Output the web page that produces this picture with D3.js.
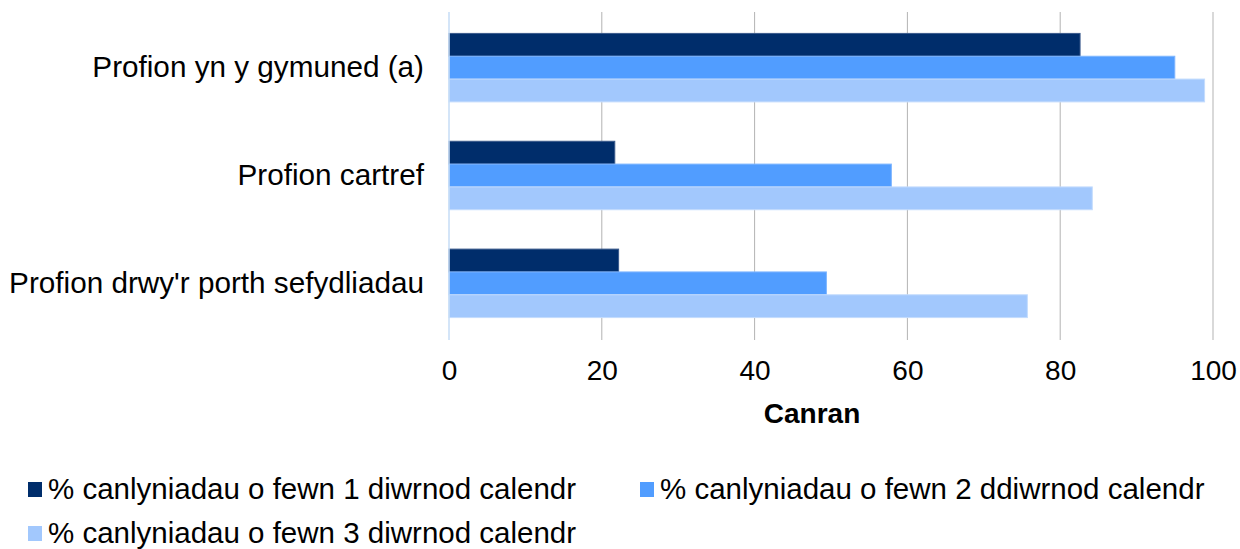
<!DOCTYPE html>
<html>
<head>
<meta charset="utf-8">
<script src="https://cdn.jsdelivr.net/npm/d3@7"></script>
<style>
  body { margin: 0; background: #fff; }
  svg { display: block; font-family: "Liberation Sans", Arial, sans-serif; }
</style>
</head>
<body>
<svg id="chart" width="1240" height="549"></svg>
<script>
var categories = ['Profion yn y gymuned (a)', 'Profion cartref', "Profion drwy'r porth sefydliadau"]
var seriesNames = [
  '% canlyniadau o fewn 1 diwrnod calendr',
  '% canlyniadau o fewn 2 ddiwrnod calendr',
  '% canlyniadau o fewn 3 diwrnod calendr'
]
var day1 = [82.6, 21.7, 22.2]
var day2 = [95.0, 57.9, 49.4]
var day3 = [98.9, 84.2, 75.7]
var xTicks = [0, 20, 40, 60, 80, 100]
var colors = ['#002d6b', '#519dff', '#a2c8fd']
var strokes = ['#3a5a8c', '#7fb6ff', '#c4dcfd']

var series = [day1, day2, day3]
var svg = d3.select('#chart')

var x = d3.scaleLinear().domain([0, 100]).range([449, 1213])
var y = d3.scaleBand().domain(categories).range([14, 337]).paddingInner(0.365).paddingOuter(0.18)
var ySub = d3.scaleBand().domain(d3.range(series.length)).range([0, y.bandwidth()])

// grid
svg.append('g').selectAll('line')
  .data(xTicks.slice(1))
  .join('line')
  .attr('x1', d => x(d)).attr('x2', d => x(d))
  .attr('y1', 12).attr('y2', 340)
  .attr('stroke', '#b3b3b3').attr('stroke-width', 1)

// bars
var groups = svg.append('g').selectAll('g')
  .data(categories)
  .join('g')
  .attr('transform', d => 'translate(0,' + y(d) + ')')

groups.selectAll('rect')
  .data((c, ci) => series.map((s, si) => ({si, v: s[ci]})))
  .join('rect')
  .attr('x', x(0))
  .attr('y', d => ySub(d.si))
  .attr('width', d => x(d.v) - x(0))
  .attr('height', ySub.bandwidth())
  .attr('fill', d => colors[d.si])
  .attr('stroke', d => strokes[d.si])
  .attr('stroke-width', 1)

// zero axis
svg.append('line')
  .attr('x1', x(0)).attr('x2', x(0))
  .attr('y1', 12).attr('y2', 340)
  .attr('stroke', '#c6dcf6').attr('stroke-width', 1.5)

// x axis labels
var xAxis = d3.axisBottom(x).tickValues(xTicks).tickSize(0).tickPadding(0)
var xg = svg.append('g').attr('transform', 'translate(0,360)').call(xAxis)
xg.select('.domain').remove()
xg.selectAll('text')
  .attr('font-size', 28).attr('fill', '#000')
  .attr('font-family', '"Liberation Sans", Arial, sans-serif')

svg.append('text')
  .attr('x', 812).attr('y', 423)
  .attr('text-anchor', 'middle')
  .attr('font-size', 28).attr('font-weight', 'bold')
  .text('Canran')

// y axis labels
var yAxis = d3.axisLeft(y).tickSize(0).tickPadding(0)
var yg = svg.append('g').attr('transform', 'translate(424,0)').call(yAxis)
yg.select('.domain').remove()
yg.selectAll('text')
  .attr('font-size', 29.7).attr('fill', '#000')
  .attr('dy', '0.33em')
  .attr('font-family', '"Liberation Sans", Arial, sans-serif')

// legend
var legendPos = [[28, 489], [640, 489], [28, 533]]
var leg = svg.append('g').selectAll('g')
  .data(seriesNames)
  .join('g')
  .attr('transform', (d, i) => 'translate(' + legendPos[i] + ')')

leg.append('rect')
  .attr('x', 0).attr('y', -7)
  .attr('width', 14).attr('height', 15)
  .attr('fill', (d, i) => colors[i])

leg.append('text')
  .attr('x', 20).attr('y', 0)
  .attr('dy', '0.35em')
  .attr('font-size', 29.5)
  .text(d => d)
</script>
</body>
</html>
